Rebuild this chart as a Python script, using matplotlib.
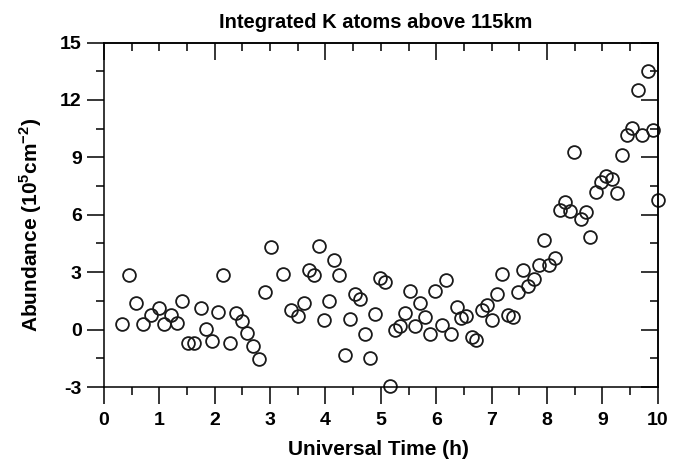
import numpy as np
import matplotlib.pyplot as plt
from matplotlib.ticker import MultipleLocator

plt.rcParams['font.family'] = ['Liberation Sans', 'DejaVu Sans']
plt.rcParams['font.weight'] = 'bold'
plt.rcParams['axes.unicode_minus'] = False
plt.rcParams['mathtext.fontset'] = 'custom'
plt.rcParams['mathtext.rm'] = 'Liberation Sans:bold'
plt.rcParams['mathtext.bf'] = 'Liberation Sans:bold'

# universal time (h) and integrated abundance (1e5 cm^-2)
time_h = [0.33, 0.46, 0.58, 0.70, 0.84, 0.99, 1.09, 1.21, 1.31, 1.41,
          1.52, 1.63, 1.75, 1.84, 1.95, 2.05, 2.15, 2.28, 2.38, 2.49,
          2.58, 2.69, 2.80, 2.90, 3.02, 3.24, 3.38, 3.51, 3.61, 3.70,
          3.80, 3.89, 3.98, 4.07, 4.16, 4.25, 4.35, 4.44, 4.53, 4.62,
          4.71, 4.80, 4.89, 4.98, 5.08, 5.16, 5.26, 5.35, 5.43, 5.52,
          5.62, 5.71, 5.80, 5.89, 5.98, 6.10, 6.18, 6.27, 6.37, 6.45,
          6.54, 6.65, 6.72, 6.83, 6.92, 7.01, 7.10, 7.19, 7.29, 7.38,
          7.48, 7.57, 7.66, 7.76, 7.85, 7.94, 8.04, 8.14, 8.24, 8.33,
          8.42, 8.49, 8.62, 8.71, 8.78, 8.89, 8.98, 9.07, 9.18, 9.27,
          9.36, 9.45, 9.54, 9.64, 9.72, 9.83, 9.92, 10.01]
abundance = [0.31, 2.83, 1.39, 0.31, 0.78, 1.13, 0.29, 0.75, 0.36, 1.50,
             -0.68, -0.68, 1.15, 0.03, -0.61, 0.91, 2.83, -0.68, 0.87, 0.45,
             -0.18, -0.86, -1.54, 1.94, 4.32, 2.88, 1.05, 0.71, 1.38, 3.10,
             2.83, 4.36, 0.50, 1.47, 3.63, 2.83, -1.35, 0.57, 1.88, 1.60,
             -0.21, -1.47, 0.80, 2.70, 2.51, -2.93, -0.04, 0.19, 0.85, 2.02,
             0.17, 1.39, 0.66, -0.21, 2.02, 0.23, 2.58, -0.25, 1.20, 0.59,
             0.73, -0.39, -0.56, 1.01, 1.29, 0.49, 1.88, 2.93, 0.76, 0.66,
             1.97, 3.10, 2.28, 2.63, 3.40, 4.68, 3.37, 3.75, 6.25, 6.68,
             6.21, 9.26, 5.76, 6.12, 4.85, 7.21, 7.69, 8.00, 7.85, 7.16,
             9.13, 10.17, 10.52, 12.53, 10.17, 13.50, 10.43, 6.77]

fig = plt.figure(figsize=(6.86, 4.62), dpi=100)
ax = fig.add_axes([0.1516, 0.1623, 0.8071, 0.7457])

ax.plot(time_h, abundance, 'o', mfc='none', mec='#1a1a1a', ms=9.2, mew=1.3,
        clip_on=False)

ax.set_xlim(0, 10)
ax.set_ylim(-3, 15)
ax.set_xticks(np.arange(0, 11, 1))
ax.set_yticks(np.arange(-3, 16, 3))
ax.xaxis.set_minor_locator(MultipleLocator(0.5))
ax.yaxis.set_minor_locator(MultipleLocator(1.5))
ax.tick_params(which='major', direction='out', length=12, width=1.1,
               labelsize=14, top=False, right=False)
ax.tick_params(axis='x', which='major', pad=6)
ax.tick_params(axis='y', which='major', pad=4)
ax.tick_params(which='minor', direction='out', length=6, width=1.1,
               top=False, right=False)
for lab in ax.get_xticklabels() + ax.get_yticklabels():
    lab.set_fontweight('bold')

# mirrored axes with inward ticks
axt = ax.secondary_xaxis('top')
axt.set_xticks(np.arange(0, 11, 2))
axt.xaxis.set_minor_locator(MultipleLocator(0.5))
axt.tick_params(which='major', direction='in', length=12, width=1.1, labeltop=False)
axt.tick_params(which='minor', direction='in', length=6, width=1.1)
axr = ax.secondary_yaxis('right')
axr.set_yticks(np.arange(-3, 16, 3))
axr.yaxis.set_minor_locator(MultipleLocator(1.5))
axr.tick_params(which='major', direction='in', length=12, width=1.1, labelright=False)
axr.tick_params(which='minor', direction='in', length=6, width=1.1)
for a in (ax, axt, axr):
    for s in a.spines.values():
        s.set_linewidth(1.1)

ax.set_xlabel('Universal Time (h)', fontsize=15, fontweight='bold')
ax.xaxis.set_label_coords(0.495, -0.154)
ax.set_ylabel(r'Abundance (10$^{5}$cm$^{-2}$)', fontsize=15, fontweight='bold')
ax.yaxis.set_label_coords(-0.108, 0.47)
fig.text(0.547, 0.952, 'Integrated K atoms above 115km', fontsize=14.5,
         fontweight='bold', ha='center', va='center')

fig.savefig('out.png', dpi=100)
